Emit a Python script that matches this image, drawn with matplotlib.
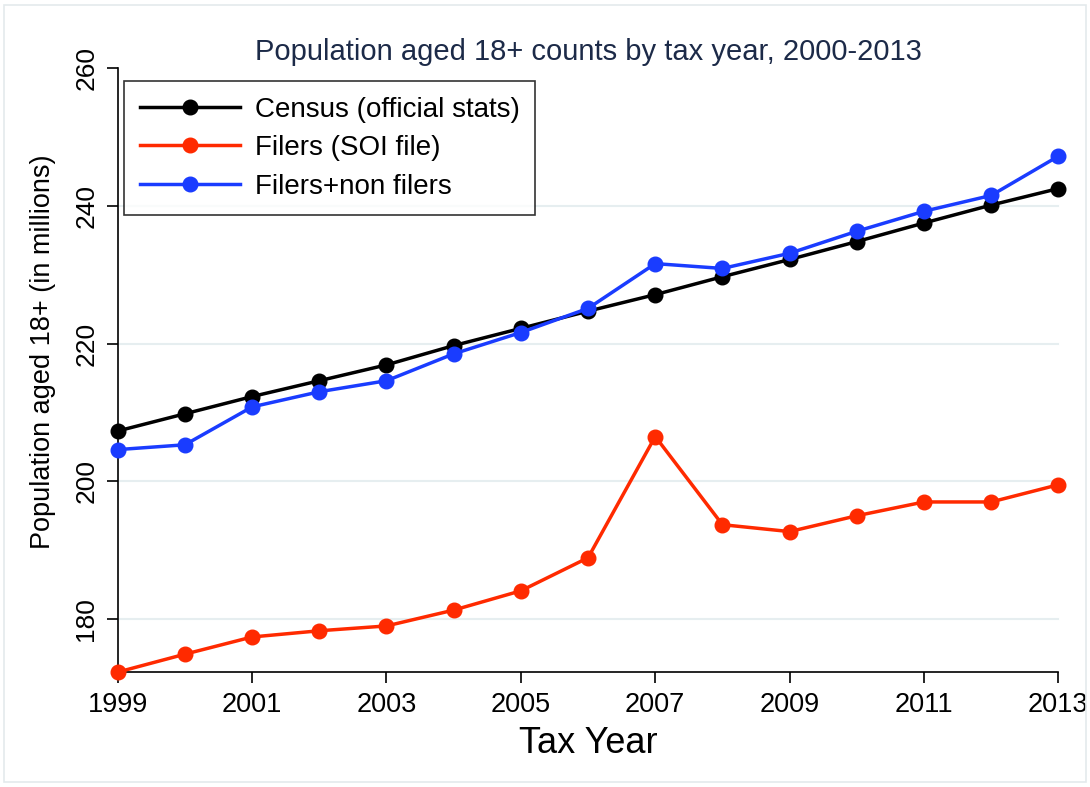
import matplotlib
matplotlib.use("Agg")
import matplotlib.pyplot as plt
from matplotlib.patches import Rectangle

years = list(range(1999, 2014))
census = [207.3, 209.8, 212.3, 214.6, 216.9, 219.7, 222.2, 224.7, 227.1, 229.7,
          232.2, 234.8, 237.5, 240.1, 242.5]
filers = [172.3, 174.9, 177.4, 178.3, 179.0, 181.3, 184.1, 188.9, 206.5, 193.7,
          192.7, 195.0, 197.0, 197.0, 199.5]
filers_non = [204.6, 205.3, 210.8, 213.0, 214.6, 218.5, 221.6, 225.1, 231.6, 230.9,
              233.1, 236.3, 239.2, 241.5, 247.2]
xticks = [1999, 2001, 2003, 2005, 2007, 2009, 2011, 2013]
yticks = [180, 200, 220, 240, 260]

reg = ["Liberation Sans", "DejaVu Sans"]

fig = plt.figure(figsize=(10.9, 7.87), dpi=100)
ax = fig.add_axes([0.108, 0.146, 0.863, 0.7676])

ax.plot(years, census, color="black", lw=2.5, marker="o", ms=10.5, label="Census (official stats)", zorder=3)
ax.plot(years, filers, color="#ff2a00", lw=2.5, marker="o", ms=10.5, label="Filers (SOI file)", zorder=3)
ax.plot(years, filers_non, color="#1a3cff", lw=2.5, marker="o", ms=10.5, label="Filers+non filers", zorder=4)

ax.set_xlim(1999, 2013)
ax.set_ylim(172.3, 260)
ax.set_xticks(xticks)
ax.set_yticks(yticks)
ax.set_xticklabels([str(t) for t in xticks], fontfamily=reg, fontsize=19.5)
ax.set_yticklabels([str(t) for t in yticks], fontfamily=reg, fontsize=19, rotation=90, va="center")
for y in [180, 200, 220, 240]:
    ax.axhline(y, color="#e6eef0", lw=1.5, zorder=0)
ax.spines["top"].set_visible(False)
ax.spines["right"].set_visible(False)
ax.spines["left"].set_linewidth(1.2)
ax.spines["bottom"].set_linewidth(1.2)
ax.tick_params(axis="both", direction="out", length=8, width=1.2, pad=6)
for m in ax.lines:
    m.set_clip_on(False)

ax.set_xlabel("Tax Year", fontfamily=reg, fontsize=26, labelpad=6)
ax.set_ylabel("Population aged 18+ (in millions)", fontfamily=reg, fontsize=19.5, labelpad=6)
ax.yaxis.set_label_coords(-0.066, 0.53)
ax.set_title("Population aged 18+ counts by tax year, 2000-2013", fontfamily=reg,
             fontsize=21, color="#1c2a48", pad=6)

leg = ax.legend(loc="upper left", bbox_to_anchor=(0.007, 0.978),
                prop={"family": reg, "size": 20}, frameon=True, fancybox=False,
                edgecolor="black", handlelength=3.6, handletextpad=0.55,
                borderpad=0.55, labelspacing=0.45, borderaxespad=0.0)
leg.get_frame().set_linewidth(1.2)

fig.patches.append(Rectangle((0.004, 0.006), 0.992, 0.988, transform=fig.transFigure,
                             fill=False, edgecolor="#e4eaec", lw=1.2))

fig.savefig("out.png", dpi=100)
